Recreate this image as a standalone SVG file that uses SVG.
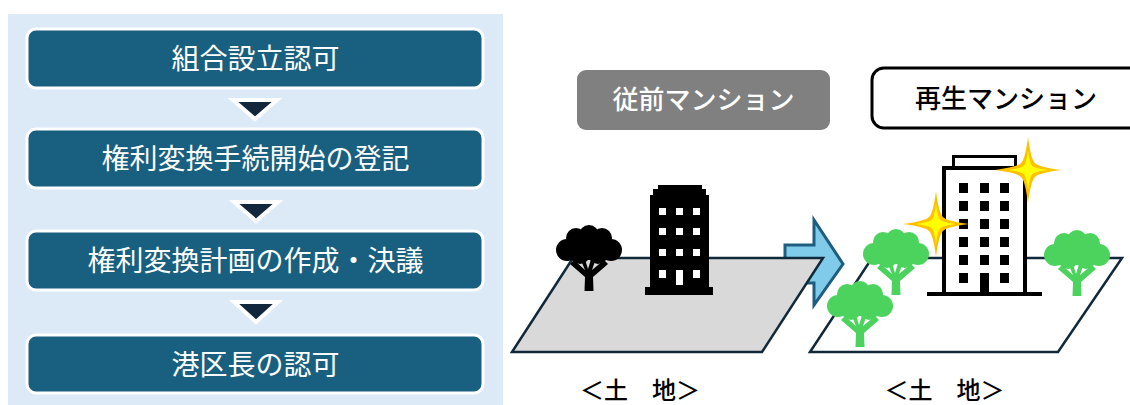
<svg xmlns="http://www.w3.org/2000/svg" xmlns:xlink="http://www.w3.org/1999/xlink" width="1130" height="405" viewBox="0 0 1130 405">
  <style>
    .step rect { fill: #185F80; stroke: #FFFFFF; stroke-width: 3; }
    .step text { fill: #FFFFFF; font-family: "Noto Sans CJK JP", "Noto Sans", sans-serif; font-size: 28px; text-anchor: middle; }
    .down { fill: #12263C; stroke: #FFFFFF; stroke-width: 4; stroke-linejoin: miter; }
    .land { stroke: #10293A; stroke-width: 2.5; stroke-linejoin: miter; }
    .label { fill: #000000; font-family: "Noto Sans CJK JP", "Noto Sans", sans-serif; font-size: 24px; font-weight: 500; text-anchor: middle; }
    .tag { font-family: "Noto Sans CJK JP", "Noto Sans", sans-serif; font-size: 26px; font-weight: 500; text-anchor: middle; }
  </style>
  <defs>
    <!-- broad-leaf tree, origin at the foot of the trunk -->
    <g id="tree">
      <circle cx="0" cy="-56" r="10"/>
      <circle cx="-13" cy="-53" r="10"/>
      <circle cx="13" cy="-53" r="10"/>
      <circle cx="-22" cy="-41" r="11"/>
      <circle cx="22" cy="-41" r="11"/>
      <circle cx="-9" cy="-37" r="10"/>
      <circle cx="9" cy="-37" r="10"/>
      <ellipse cx="0" cy="-45" rx="18" ry="14"/>
      <path d="M-4.5,0 L-4,-14 L-19,-27 L-15,-31 L-4,-21 L-9,-33 L-5,-35 L-1,-22 L3,-35 L7,-33 L3,-21 L15,-31 L19,-27 L4,-14 L4.5,0 Z"/>
    </g>
    <!-- four-point sparkle with tapered arms -->
    <path id="spark" d="M0,-33 Q3,-10 7,-7 Q10,-3 33,0 Q10,3 7,7 Q3,10 0,33 Q-3,10 -7,7 Q-10,3 -33,0 Q-10,-3 -7,-7 Q-3,-10 0,-33 Z"/>
  </defs>

  <!-- procedure panel -->
  <rect x="8" y="14" width="495" height="391" fill="#DCE9F6"/>

  <g id="step1" class="step">
    <rect x="27" y="29" width="456" height="59" rx="9"/>
    <text x="255.5" y="69">組合設立認可</text>
  </g>
  <g id="step2" class="step">
    <rect x="27" y="129" width="456" height="59" rx="9"/>
    <text x="255.5" y="169">権利変換手続開始の登記</text>
  </g>
  <g id="step3" class="step">
    <rect x="27" y="231" width="456" height="59" rx="9"/>
    <text x="255.5" y="271">権利変換計画の作成・決議</text>
  </g>
  <g id="step4" class="step">
    <rect x="27" y="335" width="456" height="58" rx="9"/>
    <text x="255.5" y="375">港区長の認可</text>
  </g>

  <g id="connectors">
    <polygon class="down" points="233,100 277,100 255,119"/>
    <polygon class="down" points="234,202 278,202 256,221"/>
    <polygon class="down" points="234,302 278,302 256,322"/>
    <!-- transition arrow between the two sites -->
    <path d="M785,245 L814,245 L814,220 L843,264 L814,305 L814,283 L785,283 Z" fill="#80CAEA" stroke="#1D5E80" stroke-width="3" stroke-linejoin="miter"/>
  </g>

  <!-- existing building on its lot -->
  <g id="before">
    <rect x="577" y="70" width="253" height="60" rx="9" fill="#808080"/>
    <text class="tag" x="703.5" y="109" fill="#FFFFFF">従前マンション</text>
    <polygon class="land" points="512,352 762,352 823,258 573,258" fill="#D9D9D9"/>
    <use xlink:href="#tree" href="#tree" transform="translate(589,291)" fill="#000000"/>
    <path d="M658,185 H702 V189 H706 V195 H709 V287 H713 V295 H645 V287 H650 V195 H653 V189 H658 Z" fill="#000000"/>
    <g fill="#FFFFFF">
      <rect x="659" y="208" width="7" height="7"/>
      <rect x="676" y="208" width="7" height="7"/>
      <rect x="693" y="208" width="7" height="7"/>
      <rect x="659" y="228" width="7" height="7"/>
      <rect x="676" y="228" width="7" height="7"/>
      <rect x="693" y="228" width="7" height="7"/>
      <rect x="659" y="249" width="7" height="7"/>
      <rect x="676" y="249" width="7" height="7"/>
      <rect x="693" y="249" width="7" height="7"/>
      <rect x="659" y="270" width="7" height="8"/>
      <rect x="676" y="270" width="7" height="15"/>
      <rect x="693" y="270" width="7" height="8"/>
    </g>
    <text class="label" x="640" y="399">＜土　地＞</text>
  </g>

  <!-- rebuilt building on its lot -->
  <g id="after">
    <rect x="872" y="68" width="270" height="60" rx="12" fill="#FFFFFF" stroke="#000000" stroke-width="3"/>
    <text class="tag" x="1006" y="108" fill="#000000">再生マンション</text>
    <polygon class="land" points="810,352 1058,352 1122,258 872,258" fill="#FFFFFF"/>
    <g fill="#4CD35E">
      <use xlink:href="#tree" href="#tree" transform="translate(896,295)"/>
      <use xlink:href="#tree" href="#tree" transform="translate(860,347)"/>
      <use xlink:href="#tree" href="#tree" transform="translate(1077,296)"/>
    </g>
    <rect x="953.5" y="156.5" width="62" height="11" fill="#FFFFFF" stroke="#000000" stroke-width="3"/>
    <rect x="944" y="168" width="81" height="126" fill="#FFFFFF" stroke="#000000" stroke-width="4"/>
    <rect x="927" y="292" width="115" height="4" fill="#000000"/>
    <g fill="#000000">
      <rect x="959" y="183" width="9" height="10"/>
      <rect x="980" y="183" width="9" height="10"/>
      <rect x="1000" y="183" width="9" height="10"/>
      <rect x="959" y="201" width="9" height="10"/>
      <rect x="980" y="201" width="9" height="10"/>
      <rect x="1000" y="201" width="9" height="10"/>
      <rect x="959" y="219" width="9" height="10"/>
      <rect x="980" y="219" width="9" height="10"/>
      <rect x="1000" y="219" width="9" height="10"/>
      <rect x="959" y="237" width="9" height="10"/>
      <rect x="980" y="237" width="9" height="10"/>
      <rect x="1000" y="237" width="9" height="10"/>
      <rect x="959" y="255" width="9" height="10"/>
      <rect x="980" y="255" width="9" height="10"/>
      <rect x="1000" y="255" width="9" height="10"/>
      <rect x="959" y="273" width="9" height="10"/>
      <rect x="980" y="273" width="9" height="21"/>
      <rect x="1000" y="273" width="9" height="10"/>
    </g>
    <g transform="translate(1028,170)">
      <use xlink:href="#spark" href="#spark" fill="#FFC000"/>
      <use xlink:href="#spark" href="#spark" fill="#FFFF00" transform="scale(0.6)"/>
    </g>
    <g transform="translate(936,224)">
      <use xlink:href="#spark" href="#spark" fill="#FFC000"/>
      <use xlink:href="#spark" href="#spark" fill="#FFFF00" transform="scale(0.6)"/>
    </g>
    <text class="label" x="944.5" y="399">＜土　地＞</text>
  </g>
</svg>
